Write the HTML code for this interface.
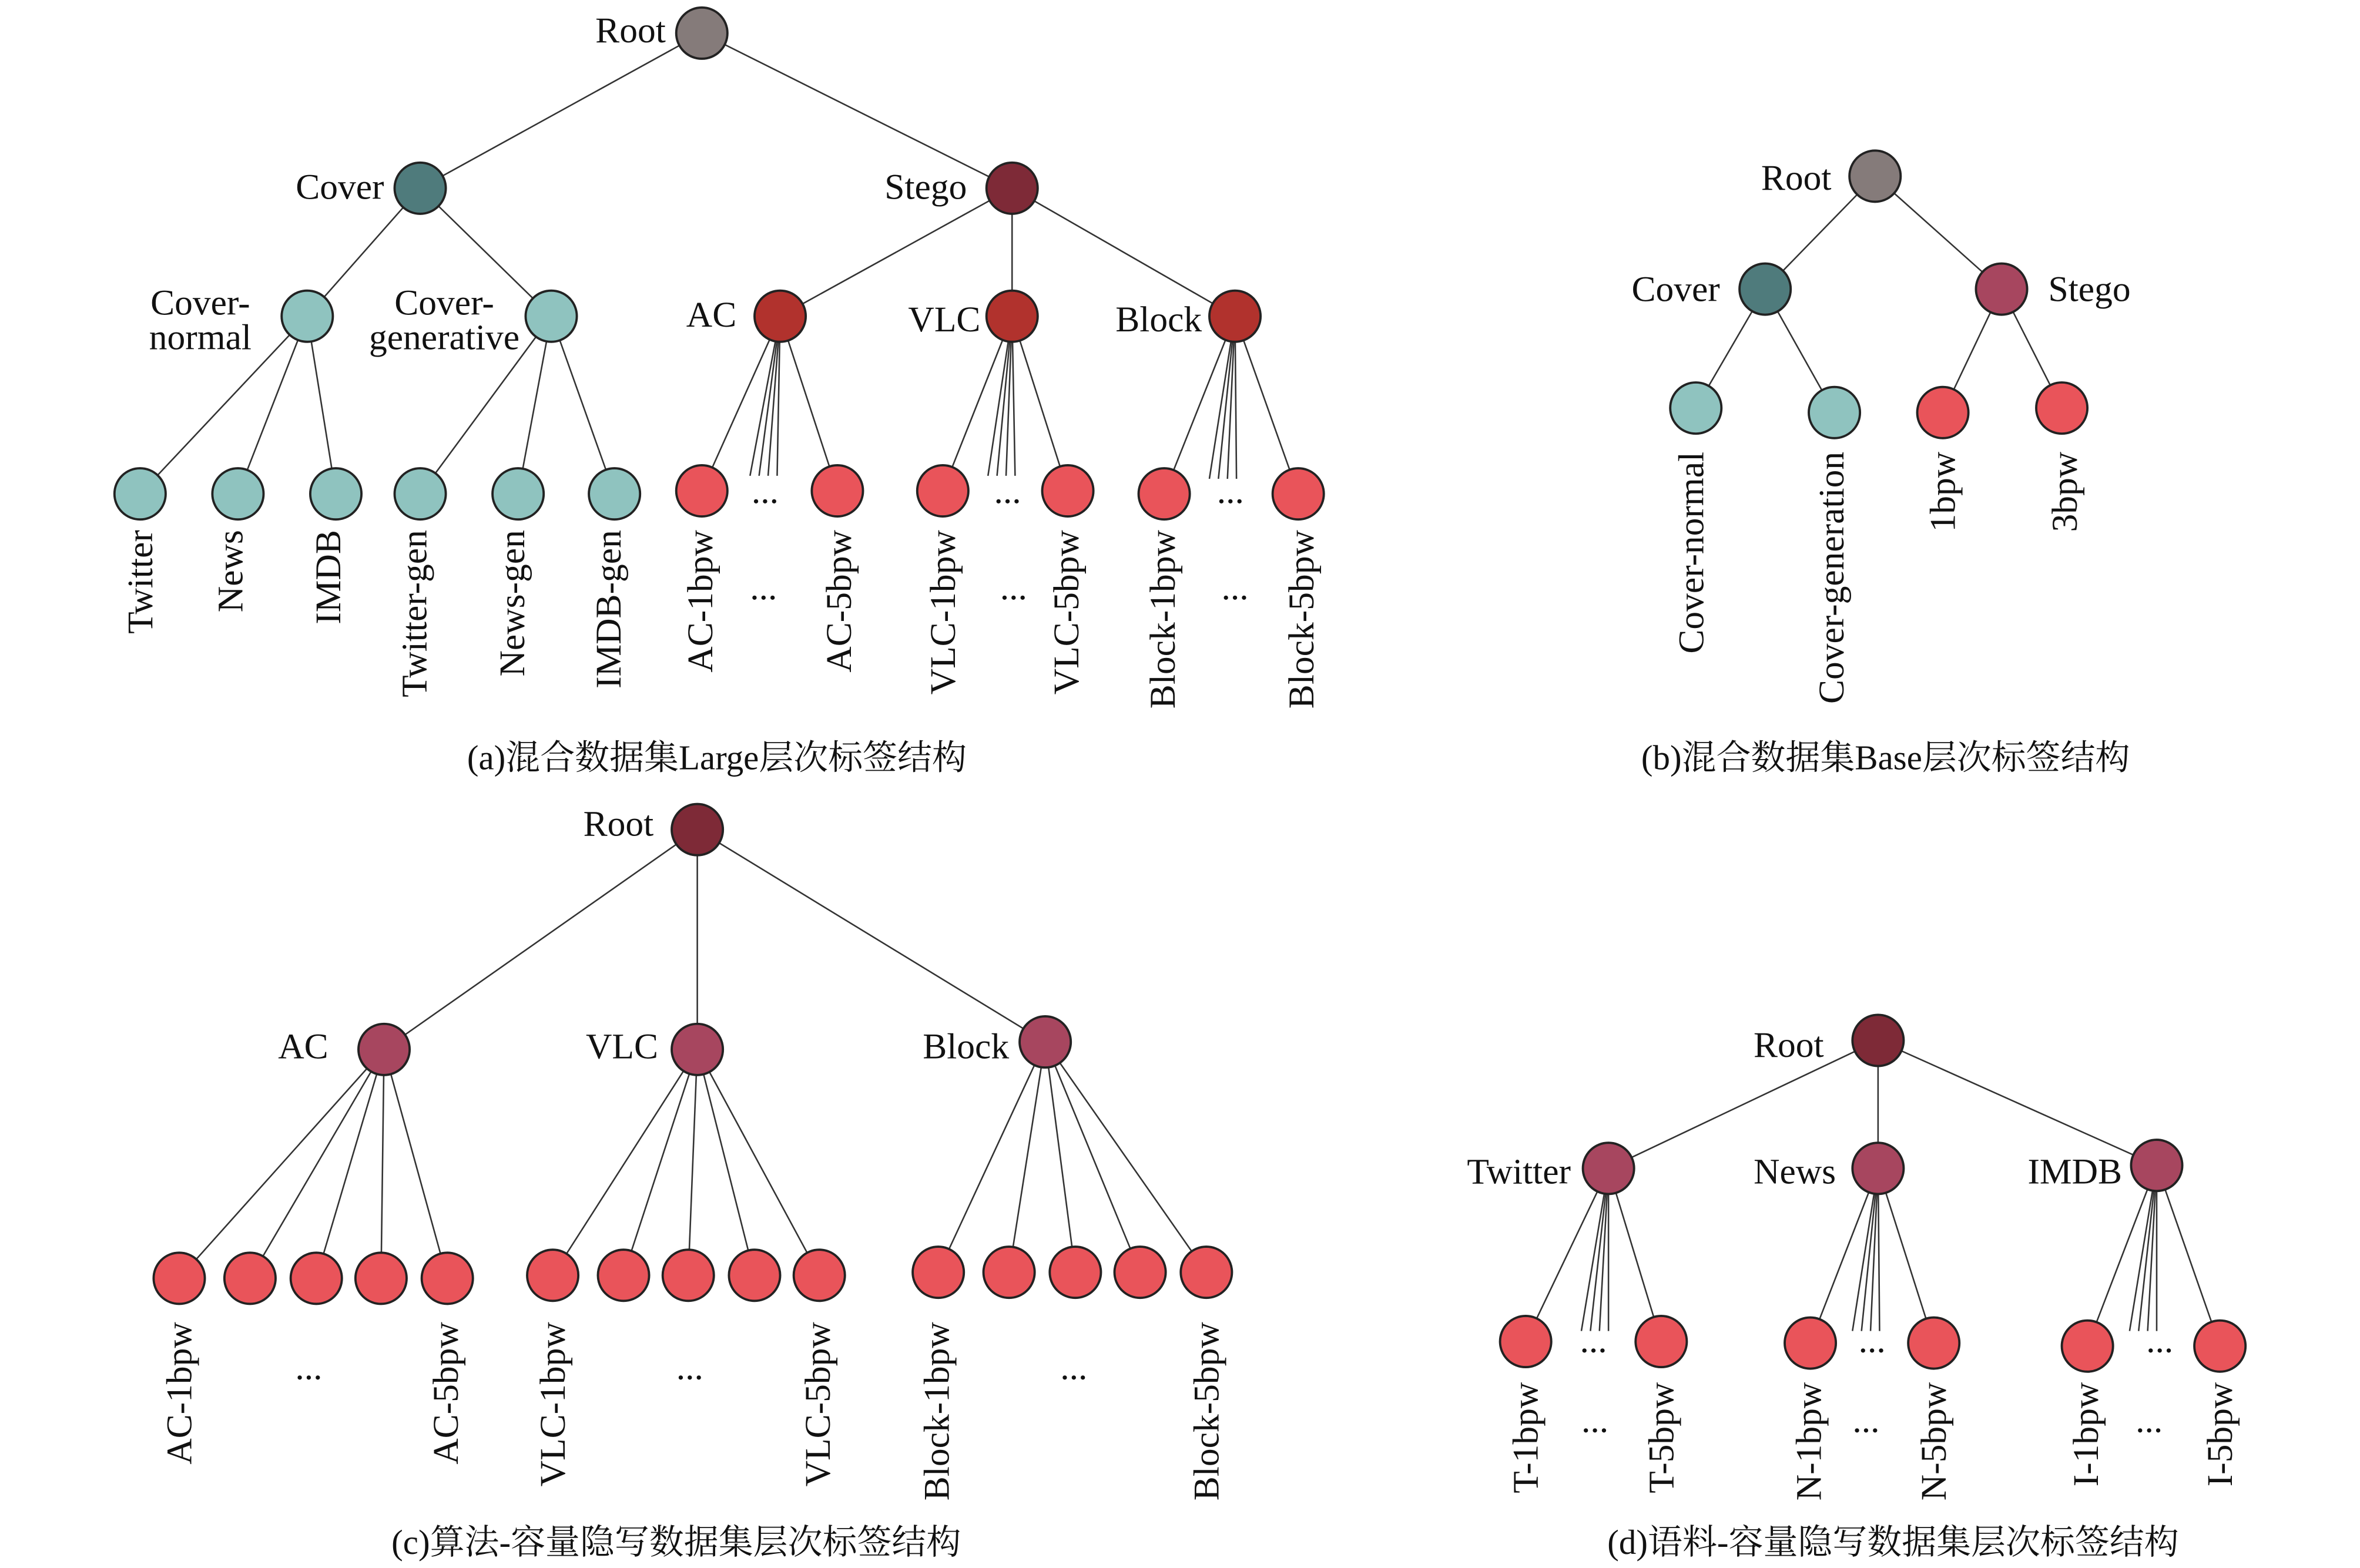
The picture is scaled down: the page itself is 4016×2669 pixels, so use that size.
<!DOCTYPE html>
<html><head><meta charset="utf-8">
<style>
html,body{margin:0;padding:0;background:#fff;}
svg{display:block}
text{font-family:"Liberation Serif","Noto Serif CJK SC",serif;font-size:24px;fill:#111}
.cap{font-size:23px}
line{stroke:#333;stroke-width:1}
circle{stroke:#222;stroke-width:1.5}
.g{fill:#857b7a}.dt{fill:#4f7b7c}.lt{fill:#8fc3bf}.ds{fill:#7e2a37}.ar{fill:#b1322d}.lr{fill:#e9545a}.mv{fill:#a7465f}
</style></head><body>
<svg width="4016" height="2669" viewBox="0 0 1567 1041.4" xmlns="http://www.w3.org/2000/svg">
<!-- ===== (a) ===== -->
<g>
<line x1="466" y1="22" x2="279" y2="125"/><line x1="466" y1="22" x2="672" y2="125"/>
<line x1="279" y1="125" x2="204" y2="210"/><line x1="279" y1="125" x2="366" y2="210"/>
<line x1="672" y1="125" x2="518" y2="210"/><line x1="672" y1="125" x2="672" y2="210"/><line x1="672" y1="125" x2="820" y2="210"/>
<line x1="204" y1="210" x2="93" y2="328"/><line x1="204" y1="210" x2="158" y2="328"/><line x1="204" y1="210" x2="223" y2="328"/>
<line x1="366" y1="210" x2="279" y2="328"/><line x1="366" y1="210" x2="344" y2="328"/><line x1="366" y1="210" x2="408" y2="328"/>
<line x1="518" y1="210" x2="466" y2="326"/><line x1="518" y1="210" x2="556" y2="326"/>
<line x1="518" y1="210" x2="498" y2="316"/><line x1="518" y1="210" x2="504" y2="316"/><line x1="518" y1="210" x2="510" y2="316"/><line x1="518" y1="210" x2="516" y2="316"/>
<line x1="672" y1="210" x2="626" y2="326"/><line x1="672" y1="210" x2="709" y2="326"/>
<line x1="672" y1="210" x2="656" y2="316"/><line x1="672" y1="210" x2="662" y2="316"/><line x1="672" y1="210" x2="668" y2="316"/><line x1="672" y1="210" x2="674" y2="316"/>
<line x1="820" y1="210" x2="773" y2="328"/><line x1="820" y1="210" x2="862" y2="328"/>
<line x1="820" y1="210" x2="803" y2="318"/><line x1="820" y1="210" x2="809" y2="318"/><line x1="820" y1="210" x2="815" y2="318"/><line x1="820" y1="210" x2="821" y2="318"/>
<circle class="g" cx="466" cy="22" r="17"/>
<circle class="dt" cx="279" cy="125" r="17"/><circle class="ds" cx="672" cy="125" r="17"/>
<circle class="lt" cx="204" cy="210" r="17"/><circle class="lt" cx="366" cy="210" r="17"/>
<circle class="ar" cx="518" cy="210" r="17"/><circle class="ar" cx="672" cy="210" r="17"/><circle class="ar" cx="820" cy="210" r="17"/>
<circle class="lt" cx="93" cy="328" r="17"/><circle class="lt" cx="158" cy="328" r="17"/><circle class="lt" cx="223" cy="328" r="17"/>
<circle class="lt" cx="279" cy="328" r="17"/><circle class="lt" cx="344" cy="328" r="17"/><circle class="lt" cx="408" cy="328" r="17"/>
<circle class="lr" cx="466" cy="326" r="17"/><circle class="lr" cx="556" cy="326" r="17"/>
<circle class="lr" cx="626" cy="326" r="17"/><circle class="lr" cx="709" cy="326" r="17"/>
<circle class="lr" cx="773" cy="328" r="17"/><circle class="lr" cx="862" cy="328" r="17"/>
<text x="442" y="28" text-anchor="end">Root</text>
<text x="255" y="132" text-anchor="end">Cover</text>
<text x="642" y="132" text-anchor="end">Stego</text>
<text x="133" y="209" text-anchor="middle">Cover-</text><text x="133" y="232" text-anchor="middle">normal</text>
<text x="295" y="209" text-anchor="middle">Cover-</text><text x="295" y="232" text-anchor="middle">generative</text>
<text x="489" y="217" text-anchor="end">AC</text>
<text x="651" y="220" text-anchor="end">VLC</text>
<text x="798" y="220" text-anchor="end">Block</text>
<text x="508" y="334" text-anchor="middle">...</text><text x="669" y="334" text-anchor="middle">...</text><text x="817" y="334" text-anchor="middle">...</text>
<text transform="translate(101,352) rotate(-90)" text-anchor="end">Twitter</text>
<text transform="translate(161,352) rotate(-90)" text-anchor="end">News</text>
<text transform="translate(226,352) rotate(-90)" text-anchor="end">IMDB</text>
<text transform="translate(283,352) rotate(-90)" text-anchor="end">Twitter-gen</text>
<text transform="translate(348,352) rotate(-90)" text-anchor="end">News-gen</text>
<text transform="translate(412,352) rotate(-90)" text-anchor="end">IMDB-gen</text>
<text transform="translate(473,352) rotate(-90)" text-anchor="end">AC-1bpw</text>
<text transform="translate(565,352) rotate(-90)" text-anchor="end">AC-5bpw</text>
<text transform="translate(634,352) rotate(-90)" text-anchor="end">VLC-1bpw</text>
<text transform="translate(716,352) rotate(-90)" text-anchor="end">VLC-5bpw</text>
<text transform="translate(780,352) rotate(-90)" text-anchor="end">Block-1bpw</text>
<text transform="translate(872,352) rotate(-90)" text-anchor="end">Block-5bpw</text>
<text x="507" y="398" text-anchor="middle">...</text><text x="673" y="398" text-anchor="middle">...</text><text x="820" y="398" text-anchor="middle">...</text>
<text class="cap" x="476" y="511" text-anchor="middle">(a)混合数据集Large层次标签结构</text>
</g>
<!-- ===== (b) ===== -->
<g>
<line x1="1245" y1="117" x2="1172" y2="192"/><line x1="1245" y1="117" x2="1329" y2="192"/>
<line x1="1172" y1="192" x2="1126" y2="271"/><line x1="1172" y1="192" x2="1218" y2="274"/>
<line x1="1329" y1="192" x2="1290" y2="274"/><line x1="1329" y1="192" x2="1369" y2="271"/>
<circle class="g" cx="1245" cy="117" r="17"/>
<circle class="dt" cx="1172" cy="192" r="17"/><circle class="mv" cx="1329" cy="192" r="17"/>
<circle class="lt" cx="1126" cy="271" r="17"/><circle class="lt" cx="1218" cy="274" r="17"/>
<circle class="lr" cx="1290" cy="274" r="17"/><circle class="lr" cx="1369" cy="271" r="17"/>
<text x="1216" y="126" text-anchor="end">Root</text>
<text x="1142" y="200" text-anchor="end">Cover</text>
<text x="1360" y="200">Stego</text>
<text transform="translate(1131,300) rotate(-90)" text-anchor="end">Cover-normal</text>
<text transform="translate(1224,300) rotate(-90)" text-anchor="end">Cover-generation</text>
<text transform="translate(1298,300) rotate(-90)" text-anchor="end">1bpw</text>
<text transform="translate(1379,300) rotate(-90)" text-anchor="end">3bpw</text>
<text class="cap" x="1252" y="511" text-anchor="middle">(b)混合数据集Base层次标签结构</text>
</g>
<!-- ===== (c) ===== -->
<g>
<line x1="463" y1="551" x2="255" y2="697"/><line x1="463" y1="551" x2="463" y2="697"/><line x1="463" y1="551" x2="694" y2="692"/>
<line x1="255" y1="697" x2="119" y2="849"/><line x1="255" y1="697" x2="166" y2="849"/><line x1="255" y1="697" x2="210" y2="849"/><line x1="255" y1="697" x2="253" y2="849"/><line x1="255" y1="697" x2="297" y2="849"/>
<line x1="463" y1="697" x2="367" y2="847"/><line x1="463" y1="697" x2="414" y2="847"/><line x1="463" y1="697" x2="457" y2="847"/><line x1="463" y1="697" x2="501" y2="847"/><line x1="463" y1="697" x2="544" y2="847"/>
<line x1="694" y1="692" x2="623" y2="845"/><line x1="694" y1="692" x2="670" y2="845"/><line x1="694" y1="692" x2="714" y2="845"/><line x1="694" y1="692" x2="757" y2="845"/><line x1="694" y1="692" x2="801" y2="845"/>
<circle class="ds" cx="463" cy="551" r="17"/>
<circle class="mv" cx="255" cy="697" r="17"/><circle class="mv" cx="463" cy="697" r="17"/><circle class="mv" cx="694" cy="692" r="17"/>
<circle class="lr" cx="119" cy="849" r="17"/><circle class="lr" cx="166" cy="849" r="17"/><circle class="lr" cx="210" cy="849" r="17"/><circle class="lr" cx="253" cy="849" r="17"/><circle class="lr" cx="297" cy="849" r="17"/>
<circle class="lr" cx="367" cy="847" r="17"/><circle class="lr" cx="414" cy="847" r="17"/><circle class="lr" cx="457" cy="847" r="17"/><circle class="lr" cx="501" cy="847" r="17"/><circle class="lr" cx="544" cy="847" r="17"/>
<circle class="lr" cx="623" cy="845" r="17"/><circle class="lr" cx="670" cy="845" r="17"/><circle class="lr" cx="714" cy="845" r="17"/><circle class="lr" cx="757" cy="845" r="17"/><circle class="lr" cx="801" cy="845" r="17"/>
<text x="434" y="555" text-anchor="end">Root</text>
<text x="218" y="703" text-anchor="end">AC</text>
<text x="437" y="703" text-anchor="end">VLC</text>
<text x="670" y="703" text-anchor="end">Block</text>
<text transform="translate(127,878) rotate(-90)" text-anchor="end">AC-1bpw</text>
<text transform="translate(304,878) rotate(-90)" text-anchor="end">AC-5bpw</text>
<text transform="translate(375,878) rotate(-90)" text-anchor="end">VLC-1bpw</text>
<text transform="translate(551,878) rotate(-90)" text-anchor="end">VLC-5bpw</text>
<text transform="translate(630,878) rotate(-90)" text-anchor="end">Block-1bpw</text>
<text transform="translate(809,878) rotate(-90)" text-anchor="end">Block-5bpw</text>
<text x="205" y="916" text-anchor="middle">...</text><text x="458" y="916" text-anchor="middle">...</text><text x="713" y="916" text-anchor="middle">...</text>
<text class="cap" x="449" y="1032" text-anchor="middle">(c)算法-容量隐写数据集层次标签结构</text>
</g>
<!-- ===== (d) ===== -->
<g>
<line x1="1247" y1="691" x2="1068" y2="776"/><line x1="1247" y1="691" x2="1247" y2="776"/><line x1="1247" y1="691" x2="1432" y2="774"/>
<line x1="1068" y1="776" x2="1013" y2="891"/><line x1="1068" y1="776" x2="1103" y2="891"/>
<line x1="1068" y1="776" x2="1050" y2="884"/><line x1="1068" y1="776" x2="1056" y2="884"/><line x1="1068" y1="776" x2="1062" y2="884"/><line x1="1068" y1="776" x2="1068" y2="884"/>
<line x1="1247" y1="776" x2="1202" y2="892"/><line x1="1247" y1="776" x2="1284" y2="892"/>
<line x1="1247" y1="776" x2="1230" y2="884"/><line x1="1247" y1="776" x2="1236" y2="884"/><line x1="1247" y1="776" x2="1242" y2="884"/><line x1="1247" y1="776" x2="1248" y2="884"/>
<line x1="1432" y1="774" x2="1386" y2="894"/><line x1="1432" y1="774" x2="1474" y2="894"/>
<line x1="1432" y1="774" x2="1414" y2="884"/><line x1="1432" y1="774" x2="1420" y2="884"/><line x1="1432" y1="774" x2="1426" y2="884"/><line x1="1432" y1="774" x2="1432" y2="884"/>
<circle class="ds" cx="1247" cy="691" r="17"/>
<circle class="mv" cx="1068" cy="776" r="17"/><circle class="mv" cx="1247" cy="776" r="17"/><circle class="mv" cx="1432" cy="774" r="17"/>
<circle class="lr" cx="1013" cy="891" r="17"/><circle class="lr" cx="1103" cy="891" r="17"/>
<circle class="lr" cx="1202" cy="892" r="17"/><circle class="lr" cx="1284" cy="892" r="17"/>
<circle class="lr" cx="1386" cy="894" r="17"/><circle class="lr" cx="1474" cy="894" r="17"/>
<text x="1211" y="702" text-anchor="end">Root</text>
<text x="1043" y="786" text-anchor="end">Twitter</text>
<text x="1219" y="786" text-anchor="end">News</text>
<text x="1409" y="786" text-anchor="end">IMDB</text>
<text x="1058" y="898" text-anchor="middle">...</text><text x="1243" y="898" text-anchor="middle">...</text><text x="1434" y="898" text-anchor="middle">...</text>
<text transform="translate(1021,918) rotate(-90)" text-anchor="end">T-1bpw</text>
<text transform="translate(1111,918) rotate(-90)" text-anchor="end">T-5bpw</text>
<text transform="translate(1209,918) rotate(-90)" text-anchor="end">N-1bpw</text>
<text transform="translate(1292,918) rotate(-90)" text-anchor="end">N-5bpw</text>
<text transform="translate(1393,918) rotate(-90)" text-anchor="end">I-1bpw</text>
<text transform="translate(1482,918) rotate(-90)" text-anchor="end">I-5bpw</text>
<text x="1059" y="951" text-anchor="middle">...</text><text x="1239" y="951" text-anchor="middle">...</text><text x="1427" y="951" text-anchor="middle">...</text>
<text class="cap" x="1257" y="1032" text-anchor="middle">(d)语料-容量隐写数据集层次标签结构</text>
</g>
</svg>
</body></html>
